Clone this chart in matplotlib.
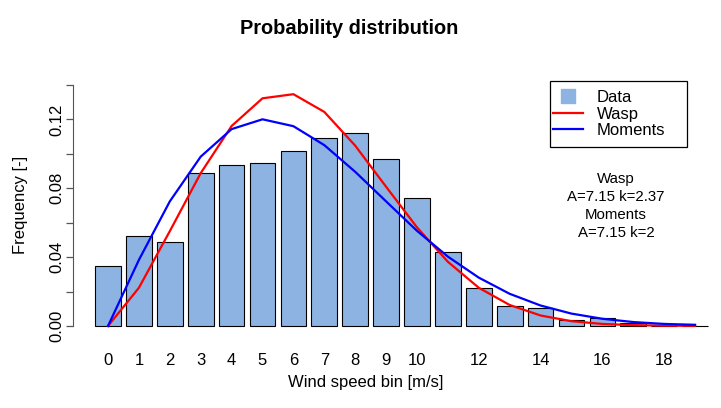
import matplotlib
matplotlib.use("Agg")
import matplotlib.pyplot as plt
from matplotlib.lines import Line2D
from matplotlib.patches import Rectangle

# =========================
# DATA
# =========================

bins = list(range(20))

bin_labels = ["0", "1", "2", "3", "4", "5", "6", "7", "8", "9", "10",
              "", "12", "", "14", "", "16", "", "18", ""]

data_freq = [0.0349, 0.0525, 0.0486, 0.0887, 0.0935, 0.0947, 0.1017,
             0.1094, 0.1121, 0.0968, 0.0742, 0.0432, 0.0219, 0.0116,
             0.0103, 0.0035, 0.0046, 0.0015, 0.0002, 0.0]

wasp_freq = [0.0, 0.0222, 0.0551, 0.0888, 0.1162, 0.1323, 0.1347,
             0.1244, 0.1048, 0.0809, 0.0573, 0.0373, 0.0222, 0.0122,
             0.0061, 0.0028, 0.0012, 0.0005, 0.0002, 0.0001]

moments_freq = [0.0, 0.0384, 0.0724, 0.0984, 0.1144, 0.1201, 0.1161,
                0.1051, 0.0896, 0.0724, 0.0553, 0.0403, 0.0281, 0.0187,
                0.0119, 0.0072, 0.0042, 0.0023, 0.0012, 0.0007]

y_ticks = [0.0, 0.02, 0.04, 0.06, 0.08, 0.10, 0.12, 0.14]
y_tick_labels = ["0.00", "", "0.04", "", "0.08", "", "0.12", ""]

info_text = "Wasp\nA=7.15 k=2.37\nMoments\nA=7.15 k=2"

# =========================
# FIGURE
# =========================

plt.rcParams["font.family"] = ["Liberation Sans", "DejaVu Sans"]

W, H = 721, 408
fig = plt.figure(figsize=(W / 100, H / 100), dpi=100)

px_left, px_right = 73, 710
px_top, px_bottom = 80, 335
ax = fig.add_axes([px_left / W, 1 - px_bottom / H,
                   (px_right - px_left) / W, (px_bottom - px_top) / H])

bar_step = 30.9
ax.set_xlim((px_left - 108) / bar_step, (px_right - 108) / bar_step)
ax.set_ylim(-(px_bottom - 326) / 1721, (326 - px_top) / 1721)

# =========================
# BARS + CURVES
# =========================

ax.bar(bins, data_freq, width=0.833, color="#8DB3E2",
       edgecolor="black", linewidth=0.8)

ax.plot(bins, wasp_freq, color="red", linewidth=1.6)
ax.plot(bins, moments_freq, color="blue", linewidth=1.6)

# =========================
# AXES STYLE
# =========================

for s in ["top", "right", "bottom"]:
    ax.spines[s].set_visible(False)
ax.spines["left"].set_bounds(0, 0.14)
ax.spines["left"].set_color("#555555")

ax.set_yticks(y_ticks)
ax.set_yticklabels(y_tick_labels, rotation=90, va="center", fontsize=12)
ax.tick_params(axis="y", length=5, width=0.9, color="#555555", pad=1)

ax.set_xticks(bins)
ax.set_xticklabels(bin_labels, fontsize=12)
ax.tick_params(axis="x", length=0, pad=13)

fig.text(366 / W, 1 - 382 / H, "Wind speed bin [m/s]",
         ha="center", va="center", fontsize=12)
fig.text(21 / W, 1 - 205 / H, "Frequency [-]", rotation=90,
         ha="center", va="center", fontsize=12)
fig.text(349 / W, 1 - 28 / H, "Probability distribution",
         ha="center", va="center", fontsize=14.4, fontweight="bold")

fig.text(616 / W, 1 - 206 / H, info_text, ha="center", va="center",
         fontsize=10.8, linespacing=1.38)

# =========================
# LEGEND
# =========================

handles = [
    Line2D([], [], marker="s", linestyle="none", markersize=10,
           markerfacecolor="#8DB3E2", markeredgecolor="#8DB3E2"),
    Line2D([], [], color="red", linewidth=1.6),
    Line2D([], [], color="blue", linewidth=1.6),
]
leg = fig.legend(handles, ["Data", "Wasp", "Moments"],
                 loc="center left",
                 bbox_to_anchor=(550 / W, 1 - 114 / H),
                 fontsize=12, frameon=False, borderpad=0.2,
                 labelspacing=0.1, handlelength=1.8, handletextpad=0.8,
                 borderaxespad=0)

fig.patches.append(Rectangle((550 / W, 1 - 147 / H), 137 / W, 66 / H,
                             transform=fig.transFigure, fill=False,
                             edgecolor="black", linewidth=0.9))

fig.savefig("out.png", dpi=100)
